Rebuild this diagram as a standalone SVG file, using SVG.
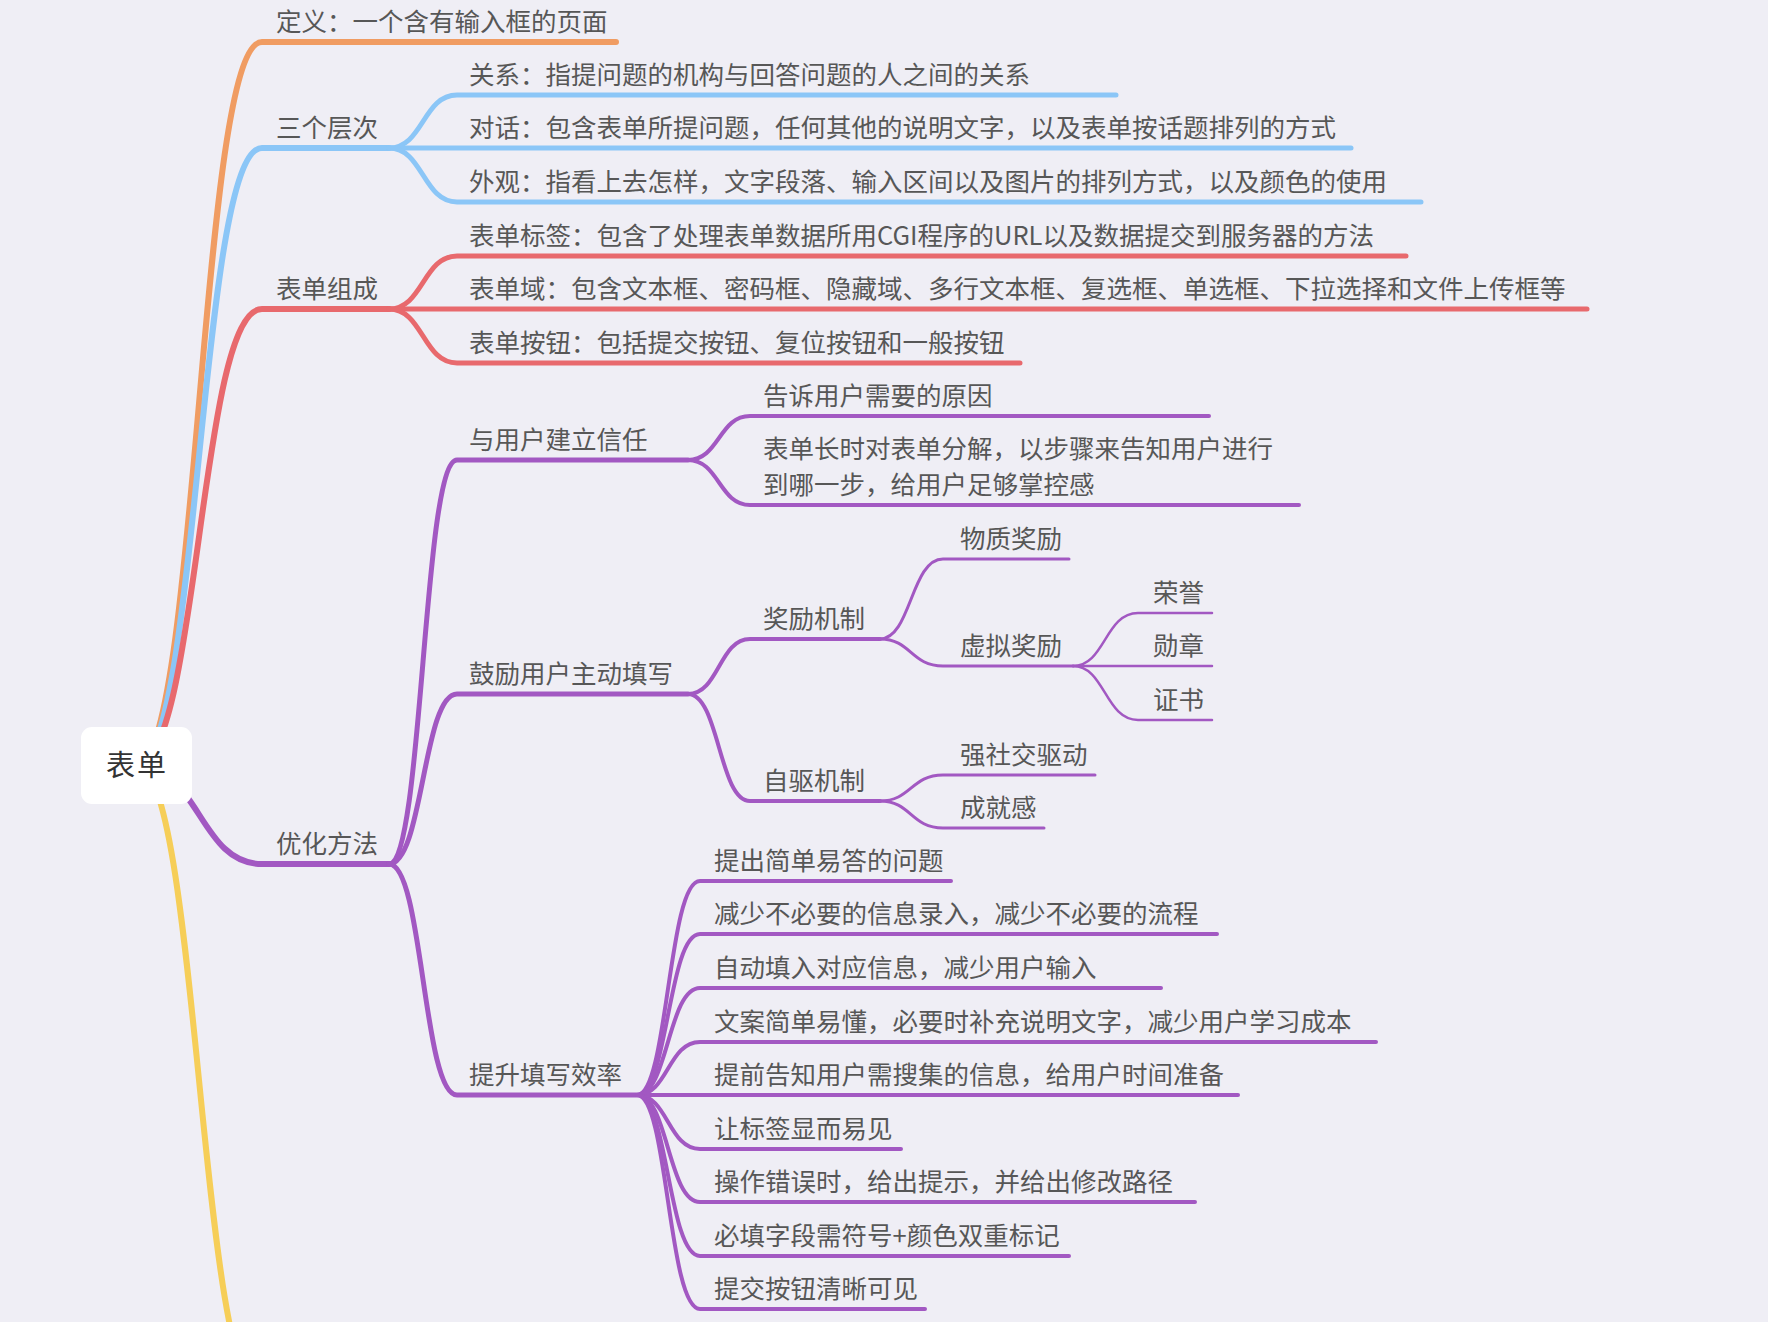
<svg xmlns="http://www.w3.org/2000/svg" width="1768" height="1322" viewBox="0 0 1768 1322">
<style>
.bg{fill:#EFEEF5}
.c{fill:none;stroke-linecap:round;stroke-linejoin:round}
.or{stroke:#F09C62}
.bl{stroke:#8BC6F7}
.rd{stroke:#E8696D}
.pu{stroke:#A258C2}
.ye{stroke:#F6CE58}
.w1{stroke-width:6}
.w2{stroke-width:5}
.w3{stroke-width:4}
.w4{stroke-width:3}
.w5{stroke-width:2.5}
text{font-family:"Noto Sans CJK SC","Noto Sans",sans-serif;font-size:25.5px;fill:#575757}
.root{font-size:29px;fill:#333333;letter-spacing:2px}
</style>
<rect class="bg" x="0" y="0" width="1768" height="1322"/>
<g id="connectors">
<path class="c or w1" d="M136 765 C199 765 199 42 262 42 L616 42"/>
<path class="c bl w1" d="M136 765 C199 765 199 148 262 148 L389 148"/>
<path class="c rd w1" d="M136 765 C199 765 199 309 262 309 L389 309"/>
<path class="c pu w1" d="M136 765 C199 765 199 864 262 864 L389 864"/>
<path class="c ye w1" d="M136 765 C199 765 199 1395 262 1395 L420 1395"/>
<path class="c bl w2" d="M389 148 C423 148 423 95 457 95 L1116 95"/>
<path class="c bl w2" d="M389 148 L1351 148"/>
<path class="c bl w2" d="M389 148 C423 148 423 202 457 202 L1421 202"/>
<path class="c rd w2" d="M389 309 C423 309 423 256 457 256 L1406 256"/>
<path class="c rd w2" d="M389 309 L1587 309"/>
<path class="c rd w2" d="M389 309 C423 309 423 363 457 363 L1020 363"/>
<path class="c pu w2" d="M389 864 C423 864 423 460 457 460 L688 460"/>
<path class="c pu w2" d="M389 864 C423 864 423 694 457 694 L688 694"/>
<path class="c pu w2" d="M389 864 C423 864 423 1095 457 1095 L637 1095"/>
<path class="c pu w3" d="M688 460 C719 460 719 416 750 416 L1209 416"/>
<path class="c pu w3" d="M688 460 C719 460 719 505 750 505 L1299 505"/>
<path class="c pu w3" d="M688 694 C719 694 719 639 750 639 L880 639"/>
<path class="c pu w3" d="M688 694 C719 694 719 801 750 801 L880 801"/>
<path class="c pu w4" d="M880 639 C911 639 911 559 943 559 L1069 559"/>
<path class="c pu w4" d="M880 639 C911 639 911 666 943 666 L1073 666"/>
<path class="c pu w5" d="M1073 666 C1105 666 1105 613 1138 613 L1212 613"/>
<path class="c pu w5" d="M1073 666 L1212 666"/>
<path class="c pu w5" d="M1073 666 C1105 666 1105 720 1138 720 L1212 720"/>
<path class="c pu w4" d="M880 801 C911 801 911 775 943 775 L1095 775"/>
<path class="c pu w4" d="M880 801 C911 801 911 828 943 828 L1044 828"/>
<path class="c pu w3" d="M637 1095 C668 1095 668 881 700 881 L951 881"/>
<path class="c pu w3" d="M637 1095 C668 1095 668 934 700 934 L1217 934"/>
<path class="c pu w3" d="M637 1095 C668 1095 668 988 700 988 L1161 988"/>
<path class="c pu w3" d="M637 1095 C668 1095 668 1042 700 1042 L1376 1042"/>
<path class="c pu w3" d="M637 1095 L1238 1095"/>
<path class="c pu w3" d="M637 1095 C668 1095 668 1149 700 1149 L901 1149"/>
<path class="c pu w3" d="M637 1095 C668 1095 668 1202 700 1202 L1195 1202"/>
<path class="c pu w3" d="M637 1095 C668 1095 668 1256 700 1256 L1069 1256"/>
<path class="c pu w3" d="M637 1095 C668 1095 668 1309 700 1309 L925 1309"/>
</g>
<g id="root">
<rect x="81" y="727" width="111" height="77" rx="11" fill="#FFFFFF"/>
<text class="root" x="137" y="776" text-anchor="middle">表单</text>
</g>
<g id="n-def"><text x="276" y="31">定义：一个含有输入框的页面</text></g>
<g id="n-levels"><text x="276" y="137">三个层次</text></g>
<g id="n-rel"><text x="469" y="84">关系：指提问题的机构与回答问题的人之间的关系</text></g>
<g id="n-dia"><text x="469" y="137">对话：包含表单所提问题，任何其他的说明文字，以及表单按话题排列的方式</text></g>
<g id="n-look"><text x="469" y="191">外观：指看上去怎样，文字段落、输入区间以及图片的排列方式，以及颜色的使用</text></g>
<g id="n-comp"><text x="276" y="298">表单组成</text></g>
<g id="n-tag"><text x="469" y="245">表单标签：包含了处理表单数据所用CGI程序的URL以及数据提交到服务器的方法</text></g>
<g id="n-field"><text x="469" y="298">表单域：包含文本框、密码框、隐藏域、多行文本框、复选框、单选框、下拉选择和文件上传框等</text></g>
<g id="n-btn"><text x="469" y="352">表单按钮：包括提交按钮、复位按钮和一般按钮</text></g>
<g id="n-opt"><text x="276" y="853">优化方法</text></g>
<g id="n-trust"><text x="469" y="449">与用户建立信任</text></g>
<g id="n-why"><text x="763" y="405">告诉用户需要的原因</text></g>
<g id="n-split"><text x="763" y="458">表单长时对表单分解，以步骤来告知用户进行</text><text x="763" y="494">到哪一步，给用户足够掌控感</text></g>
<g id="n-enc"><text x="469" y="683">鼓励用户主动填写</text></g>
<g id="n-reward"><text x="763" y="628">奖励机制</text></g>
<g id="n-mat"><text x="960" y="548">物质奖励</text></g>
<g id="n-virt"><text x="960" y="655">虚拟奖励</text></g>
<g id="n-honor"><text x="1153" y="602">荣誉</text></g>
<g id="n-medal"><text x="1153" y="655">勋章</text></g>
<g id="n-cert"><text x="1153" y="709">证书</text></g>
<g id="n-self"><text x="763" y="790">自驱机制</text></g>
<g id="n-social"><text x="960" y="764">强社交驱动</text></g>
<g id="n-ach"><text x="960" y="817">成就感</text></g>
<g id="n-eff"><text x="469" y="1084">提升填写效率</text></g>
<g id="n-e1"><text x="714" y="870">提出简单易答的问题</text></g>
<g id="n-e2"><text x="714" y="923">减少不必要的信息录入，减少不必要的流程</text></g>
<g id="n-e3"><text x="714" y="977">自动填入对应信息，减少用户输入</text></g>
<g id="n-e4"><text x="714" y="1031">文案简单易懂，必要时补充说明文字，减少用户学习成本</text></g>
<g id="n-e5"><text x="714" y="1084">提前告知用户需搜集的信息，给用户时间准备</text></g>
<g id="n-e6"><text x="714" y="1138">让标签显而易见</text></g>
<g id="n-e7"><text x="714" y="1191">操作错误时，给出提示，并给出修改路径</text></g>
<g id="n-e8"><text x="714" y="1245">必填字段需符号+颜色双重标记</text></g>
<g id="n-e9"><text x="714" y="1298">提交按钮清晰可见</text></g>
</svg>
